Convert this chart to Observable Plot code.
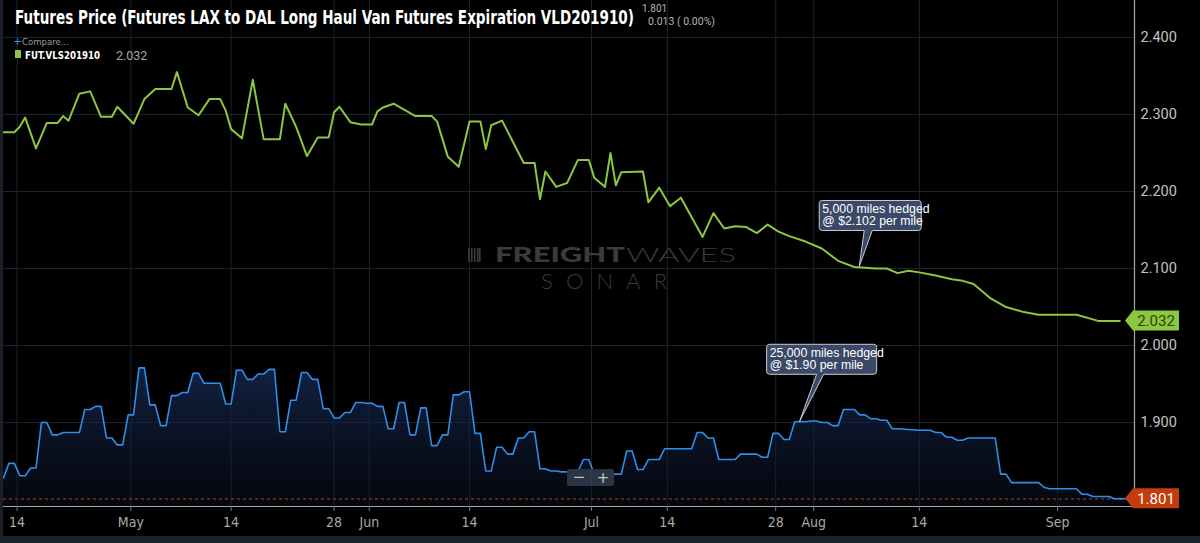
<!DOCTYPE html>
<html><head><meta charset="utf-8">
<script src="https://cdn.jsdelivr.net/npm/d3@7"></script>
<script src="https://cdn.jsdelivr.net/npm/@observablehq/plot@0.6"></script>
<style>
html,body{margin:0;padding:0;background:#000;}
#chart{position:relative;width:1200px;height:543px;overflow:hidden;}
</style></head><body><div id="chart"></div>
<script>
// ---- data (x = trading half-session slot, y = price $/mile) ----
const yTicks = [1.9, 2.0, 2.1, 2.2, 2.3, 2.4];
const xTickSlots = [2.5, 23.5, 42, 61, 67.5, 86, 108.5, 122.5, 142.5, 149.5, 169, 194.5];
const xTickLabels = ["14","May","14","28","Jun","14","Jul","14","28","Aug","14","Sep"];

const greenSeries = [
[0,2.277],[2,2.277],[3,2.284],[4,2.296],[6,2.256],[8,2.289],[10,2.289],[11,2.298],[12,2.292],
[14,2.327],[16,2.330],[18,2.297],[20,2.297],[21,2.310],[24,2.288],[26,2.320],[28,2.333],[31,2.333],
[32,2.355],[34,2.309],[36,2.299],[38,2.320],[40,2.320],[41,2.305],[42,2.281],[44,2.269],[46,2.345],
[48,2.268],[51,2.268],[52,2.314],[54,2.284],[56,2.246],[58,2.270],[60,2.270],[61,2.303],[62,2.310],
[64,2.290],[66,2.287],[68,2.287],[69,2.304],[70,2.309],[72,2.314],[74,2.306],[76,2.298],[79,2.298],
[80,2.291],[82,2.245],[84,2.232],[86,2.291],[88,2.291],[89,2.255],[90,2.286],[92,2.292],[96,2.237],
[98,2.237],[99,2.190],[100,2.226],[102,2.206],[104,2.211],[106,2.241],[108,2.241],[109,2.218],
[111,2.206],[112,2.250],[113,2.208],[114,2.225],[118,2.226],[119,2.186],[121,2.205],[123,2.181],
[125,2.192],[129,2.141],[131,2.172],[133,2.152],[135,2.155],[137,2.154],[139,2.146],[141,2.157],
[143,2.148],[145,2.142],[148,2.135],[151,2.126],[154,2.110],[157,2.102],[159,2.101],[161,2.100],
[163,2.100],[165,2.094],[167,2.097],[169,2.095],[172,2.091],[175,2.086],[177,2.084],[179,2.080],
[182,2.062],[185,2.050],[188,2.044],[191,2.040],[198,2.040],[202,2.032],[206,2.032]
];

const blueSeries = [
[0,1.828],[1,1.847],[2,1.847],[3,1.831],[4,1.831],[5,1.841],[6,1.841],[7,1.900],[8,1.900],
[9,1.884],[10,1.884],[11,1.887],[14,1.887],[15,1.917],[16,1.917],[17,1.921],[18,1.921],
[19,1.880],[20,1.880],[21,1.871],[22,1.871],[23,1.910],[24,1.910],[25,1.971],[26,1.971],
[27,1.923],[28,1.923],[29,1.896],[30,1.896],[31,1.935],[32,1.935],[33,1.939],[34,1.939],
[35,1.964],[36,1.964],[37,1.951],[40,1.951],[41,1.924],[42,1.924],[43,1.968],[44,1.968],
[45,1.956],[46,1.956],[47,1.963],[48,1.963],[49,1.969],[50,1.969],[51,1.888],[52,1.888],
[53,1.929],[54,1.929],[55,1.965],[56,1.965],[57,1.956],[58,1.956],[59,1.918],[60,1.918],
[61,1.906],[62,1.906],[63,1.913],[64,1.913],[65,1.926],[66,1.926],[67,1.925],[68,1.925],
[69,1.921],[70,1.921],[71,1.892],[72,1.892],[73,1.926],[74,1.926],[75,1.884],[76,1.884],
[77,1.919],[78,1.919],[79,1.870],[80,1.870],[81,1.884],[82,1.884],[83,1.936],[84,1.936],
[85,1.940],[86,1.940],[87,1.886],[88,1.886],[89,1.837],[90,1.837],[91,1.868],[92,1.868],
[93,1.859],[94,1.859],[95,1.880],[96,1.880],[97,1.888],[98,1.888],[99,1.840],[100,1.840],
[101,1.837],[102,1.837],[103,1.836],[106,1.836],[107,1.852],[108,1.852],[109,1.833],[114,1.833],
[115,1.863],[116,1.863],[117,1.839],[118,1.839],[119,1.852],[121,1.852],[122,1.866],[127,1.866],
[128,1.887],[129,1.887],[130,1.880],[131,1.880],[132,1.852],[135,1.852],[136,1.859],[139,1.859],
[140,1.855],[141,1.855],[142,1.886],[143,1.886],[144,1.878],[145,1.878],[146,1.901],[148,1.901],
[149,1.902],[150,1.902],[151,1.900],[152,1.900],[153,1.896],[154,1.896],[155,1.917],[157,1.917],
[158,1.910],[159,1.910],[160,1.905],[161,1.905],[162,1.903],[163,1.903],[164,1.892],[165,1.892],
[167,1.891],[169,1.890],[171,1.890],[172,1.887],[173,1.887],[174,1.881],[175,1.881],[176,1.877],
[177,1.877],[178,1.880],[183,1.880],[184,1.833],[185,1.833],[186,1.822],[191,1.822],[192,1.816],
[193,1.814],[198,1.814],[199,1.807],[200,1.807],[201,1.804],[204,1.804],[205,1.801],[207,1.801]
];

const annotations = [
  {slot: 158, value: 2.102, lines: ["5,000 miles hedged", "@ $2.102 per mile"]},
  {slot: 147, value: 1.901, lines: ["25,000 miles hedged", "@ $1.90 per mile"]}
];
const titleText = "Futures Price (Futures LAX to DAL Long Haul Van Futures Expiration VLD201910)";
const headerQuote = ["1.801", "0.013 ( 0.00%)"];
const legendSymbol = "FUT.VLS201910";
const legendValue = "2.032";
const lastGreen = 2.032;
const lastBlue = 1.801;

// ---- chart ----
const xMax = 208.7, yMin = 1.791, yMax = 2.448;
const labelOf = new Map(xTickSlots.map((s, i) => [s, xTickLabels[i]]));
const GRID = "#1c2430";
const narrow = "'Liberation Sans Narrow','DejaVu Sans Condensed','Roboto',sans-serif";

const chart = Plot.plot({
  width: 1200, height: 543,
  marginLeft: 3, marginRight: 66, marginTop: 0, marginBottom: 37,
  style: {background: "#000", fontFamily: "Roboto, sans-serif"},
  x: {type: "linear", domain: [0, xMax], axis: null},
  y: {type: "linear", domain: [yMin, yMax], axis: null},
  marks: [
    Plot.ruleY(yTicks, {stroke: GRID, strokeWidth: 1, strokeOpacity: 1}),
    Plot.ruleX(xTickSlots, {stroke: GRID, strokeWidth: 1, strokeOpacity: 1}),
    Plot.areaY(blueSeries, {x: d => d[0], y1: yMin, y2: d => d[1], fill: "url(#blueGrad)"}),
    Plot.ruleY([lastBlue], {stroke: "#9b3417", strokeWidth: 1.2, strokeDasharray: "3,3"}),
    Plot.line(blueSeries, {x: d => d[0], y: d => d[1], stroke: "#2f8fe8", strokeWidth: 1.6}),
    Plot.line(greenSeries, {x: d => d[0], y: d => d[1], stroke: "#8dc63f", strokeWidth: 2}),
    Plot.ruleY([yMin], {stroke: "#a7a7a7", strokeWidth: 1.2}),
    Plot.ruleX([xMax], {stroke: "#a7a7a7", strokeWidth: 1.2}),
    Plot.axisX(xTickSlots, {tickFormat: d => labelOf.get(d), tickSize: 5, tickPadding: 6,
      stroke: "#777", fill: "#a9a9a9", fontSize: 14, fontFamily: narrow}),
    Plot.axisY(yTicks, {anchor: "right", tickSize: 0, tickPadding: 6, tickFormat: d3.format(".3f"),
      fill: "#c3c3c3", fontSize: 14.5, fontFamily: "Roboto, sans-serif"})
  ]
});
document.getElementById("chart").appendChild(chart);

const root = d3.select(chart);
const xs = chart.scale("x"), ys = chart.scale("y");
const X = v => xs.apply(v), Y = v => ys.apply(v);

root.insert("defs", ":first-child").html(
  `<linearGradient id="blueGrad" x1="0" y1="0" x2="0" y2="1">
     <stop offset="0%" stop-color="#172a55" stop-opacity="0.8"/>
     <stop offset="100%" stop-color="#0b1428" stop-opacity="0.35"/>
   </linearGradient>`);

const svg = root.append("g").attr("text-anchor", "start");

// frame chrome
svg.append("rect").attr("x", 0).attr("y", 0).attr("width", 3).attr("height", 537).attr("fill", "#1a2029");
svg.append("rect").attr("x", 0).attr("y", 536).attr("width", 1200).attr("height", 7).attr("fill", "#1b222b");

// watermark
const wm = svg.append("g").attr("fill", "#3b3b3b");
[0,3,6,9,11].forEach(o => wm.append("rect").attr("x", 468 + o).attr("y", 248).attr("width", 1.6).attr("height", 14));
wm.append("text").attr("x", 495).attr("y", 262).attr("font-family", "Lato, 'DejaVu Sans', sans-serif")
  .attr("font-weight", 900).attr("font-size", 20).attr("textLength", 130).attr("lengthAdjust", "spacingAndGlyphs").text("FREIGHT");
wm.append("text").attr("x", 626).attr("y", 262).attr("font-family", "Lato, 'DejaVu Sans', sans-serif")
  .attr("font-weight", 300).attr("font-size", 20).attr("textLength", 110).attr("lengthAdjust", "spacingAndGlyphs").text("WAVES");
wm.append("text").attr("x", 541).attr("y", 289).attr("font-family", "Lato, 'DejaVu Sans', sans-serif")
  .attr("font-weight", 300).attr("font-size", 22).attr("textLength", 126).attr("lengthAdjust", "spacing").text("SONAR");

// zoom control
const zc = svg.append("g").attr("text-anchor", "middle");
zc.append("rect").attr("x", 567).attr("y", 469).attr("width", 47).attr("height", 17).attr("rx", 2).attr("fill", "#2a3442");
zc.append("line").attr("x1", 591).attr("x2", 591).attr("y1", 471).attr("y2", 484).attr("stroke", "#3a4554");
zc.append("text").attr("x", 579).attr("y", 482).attr("fill", "#c4c4c4")
  .attr("font-family", "DejaVu Sans, sans-serif").attr("font-size", 15).text("−");
zc.append("text").attr("x", 603).attr("y", 482.5).attr("fill", "#c4c4c4")
  .attr("font-family", "DejaVu Sans, sans-serif").attr("font-size", 15).text("+");

// annotations (callouts)
const callout = [{dx: -40, dy: -66, w: 102, b1: 5, b2: 13}, {dx: -33, dy: -77, w: 110, b1: 17, b2: 24}];
annotations.forEach((a, i) => {
  const tx = X(a.slot), ty = Y(a.value), c = callout[i];
  const L = tx + c.dx, T = ty + c.dy, W = c.w, H = 30, r = 3;
  const p = `M${L+r},${T} H${L+W-r} Q${L+W},${T} ${L+W},${T+r} V${T+H-r} Q${L+W},${T+H} ${L+W-r},${T+H}
    H${tx+c.b2} L${tx},${ty} L${tx+c.b1},${T+H} H${L+r} Q${L},${T+H} ${L},${T+H-r} V${T+r} Q${L},${T} ${L+r},${T} Z`;
  svg.append("path").attr("d", p).attr("fill", "#3a4968").attr("stroke", "#c9ccd4").attr("stroke-width", 1);
  a.lines.forEach((ln, j) => svg.append("text").attr("x", L + 3).attr("y", T + 12.5 + j * 12.5)
    .attr("fill", "#fff").attr("font-family", "'Liberation Sans', Arial, sans-serif").attr("font-size", 12.3).text(ln));
});

// last-value badges
function badge(v, fill, textFill) {
  const yc = Y(v);
  svg.append("path").attr("d", `M1125,${yc} L1133,${yc-10} L1179,${yc-10} L1179,${yc+10} L1133,${yc+10} Z`).attr("fill", fill);
  svg.append("text").attr("x", 1156).attr("y", yc + 5.5).attr("text-anchor", "middle").attr("fill", textFill)
    .attr("font-family", "Roboto, sans-serif").attr("font-size", 15).text(d3.format(".3f")(v));
}
badge(lastGreen, "#8dc63f", "#2a4411");
badge(lastBlue, "#c23c0d", "#ffffff");

// header
svg.append("text").attr("x", 15).attr("y", 24).attr("fill", "#fff").attr("font-family", narrow)
  .attr("font-weight", 700).attr("font-size", 19).attr("textLength", 619).attr("lengthAdjust", "spacingAndGlyphs").text(titleText);
svg.append("text").attr("x", 642).attr("y", 11.5).attr("fill", "#b4b4b4").attr("font-family", "Roboto, sans-serif")
  .attr("font-size", 10).text(headerQuote[0]);
svg.append("text").attr("x", 648).attr("y", 25).attr("fill", "#b4b4b4").attr("font-family", "Roboto, sans-serif")
  .attr("font-size", 10.5).text(headerQuote[1]);
svg.append("text").attr("x", 13).attr("y", 45).attr("fill", "#2f8fe8").attr("font-family", "DejaVu Sans, sans-serif")
  .attr("font-size", 11).text("+");
svg.append("text").attr("x", 22).attr("y", 45).attr("fill", "#9a9a9a").attr("font-family", narrow)
  .attr("font-size", 9.5).text("Compare...");
svg.append("rect").attr("x", 15).attr("y", 50).attr("width", 6).attr("height", 8).attr("fill", "#8dc63f");
svg.append("text").attr("x", 25).attr("y", 58.5).attr("fill", "#fff").attr("font-family", narrow)
  .attr("font-weight", 700).attr("font-size", 11).attr("textLength", 75).attr("lengthAdjust", "spacingAndGlyphs").text(legendSymbol);
svg.append("text").attr("x", 116).attr("y", 59.5).attr("fill", "#a5a5a5").attr("font-family", "Roboto, sans-serif")
  .attr("font-size", 12.5).text(legendValue);
</script></body></html>
